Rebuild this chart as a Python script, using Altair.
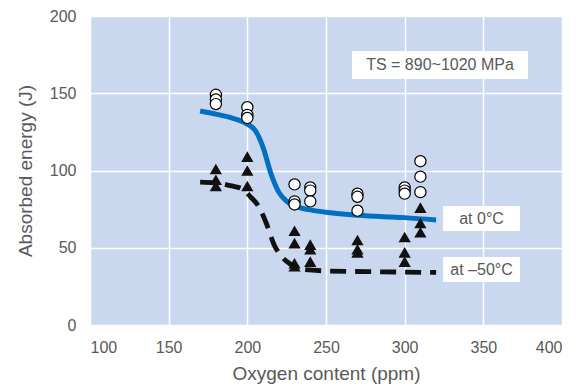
import altair as alt
import pandas as pd

# Measured points
circ_x = [180, 180, 180, 200, 200, 200, 230, 230, 230, 240, 240, 240,
          270, 270, 270, 300, 300, 300, 310, 310, 310]
circ_y = [149, 146, 143, 141, 136, 134, 91, 80, 78, 89, 87, 80,
          85, 83, 74, 89, 87, 85, 106, 96, 86]
tri_x = [180, 180, 180, 200, 200, 200, 230, 230, 230, 230, 240, 240, 240,
         270, 270, 270, 300, 300, 300, 310, 310, 310]
tri_y = [101, 94, 90, 109, 100, 90, 61, 53, 40, 38, 52, 49, 41,
         55, 49, 47, 57, 47, 41, 76, 66, 60]

# Trend curves
c0_x = [170, 180, 190, 200, 205, 210, 215, 220, 225, 230, 240, 250, 270, 300, 320]
c0_y = [138.5, 136.5, 134, 130, 126, 115, 98, 86, 80, 77, 74.5, 73, 71, 69.5, 68]
c50_x = [170, 180, 190, 197, 202, 207, 212, 217, 222, 228, 235, 250, 280, 320]
c50_y = [92.5, 92, 90, 88, 83, 77, 66, 52, 44, 39, 36, 35, 34.5, 34]

# Annotations
ann_text = ["TS = 890~1020 MPa", "at 0°C", "at \u201350°C"]
ann_x1 = [266.5, 324.4, 324.4]
ann_x2 = [378.4, 373.3, 373.3]
ann_y1 = [159.2, 60.8, 27.8]
ann_y2 = [177.3, 77.0, 44.0]

circ = pd.DataFrame({"x": circ_x, "y": circ_y})
tri = pd.DataFrame({"x": tri_x, "y": tri_y})
c0 = pd.DataFrame({"x": c0_x, "y": c0_y})
c50 = pd.DataFrame({"x": c50_x, "y": c50_y})
ann = pd.DataFrame({"t": ann_text, "x1": ann_x1, "x2": ann_x2, "y1": ann_y1, "y2": ann_y2})
ann["xm"] = (ann["x1"] + ann["x2"]) / 2
ann["ym"] = (ann["y1"] + ann["y2"]) / 2

xs = alt.Scale(domain=[100, 400], nice=False, zero=False)
ys = alt.Scale(domain=[0, 200], nice=False)

grey = "#595959"
FONT = "Liberation Sans"
xax = alt.Axis(values=[100, 150, 200, 250, 300, 350, 400], title="Oxygen content (ppm)",
               grid=True, gridColor="white", gridWidth=1.5, domain=False, ticks=False,
               labelFontSize=16, labelColor=grey, labelPadding=14, titleFontSize=19,
               titleColor=grey, titleFontWeight="normal", titlePadding=9,
               labelFont=FONT, titleFont=FONT)
yax = alt.Axis(values=[0, 50, 100, 150, 200], title="Absorbed energy (J)",
               grid=True, gridColor="white", gridWidth=1.5, domain=False, ticks=False,
               labelFontSize=16, labelColor=grey, labelPadding=14, titleFontSize=19,
               titleColor=grey, titleFontWeight="normal", titlePadding=14,
               labelFont=FONT, titleFont=FONT)

base_x = alt.X("x:Q", scale=xs, axis=xax)
base_y = alt.Y("y:Q", scale=ys, axis=yax)

line0 = alt.Chart(c0).mark_line(color="#0070c0", strokeWidth=5, interpolate="monotone").encode(
    x=base_x, y=base_y)
line50 = alt.Chart(c50).mark_line(color="#111111", strokeWidth=4.8, strokeDash=[16, 9],
                                  interpolate="monotone").encode(x="x:Q", y="y:Q")
pts_c = alt.Chart(circ).mark_point(shape="circle", filled=True, fill="white", stroke="black",
                                   strokeWidth=1.2, size=125, opacity=1).encode(x="x:Q", y="y:Q")
pts_t = alt.Chart(tri).mark_point(shape="triangle-up", filled=True, color="#111111",
                                  size=150, opacity=1).encode(x="x:Q", y="y:Q")
boxes = alt.Chart(ann).mark_rect(color="white").encode(x="x1:Q", x2="x2", y="y1:Q", y2="y2")
texts = alt.Chart(ann).mark_text(fontSize=16, color=grey, font=FONT).encode(
    x="xm:Q", y="ym:Q", text="t:N")

chart = alt.layer(line0, line50, pts_c, pts_t, boxes, texts).properties(
    width=472, height=309,
    autosize=alt.AutoSizeParams(type="none"),
    padding={"left": 82, "top": 8, "right": 10, "bottom": 61},
).configure_view(fill="#c9d7ef", stroke=None)

chart.save("out.html", embed_options={"renderer": "svg", "actions": False})
